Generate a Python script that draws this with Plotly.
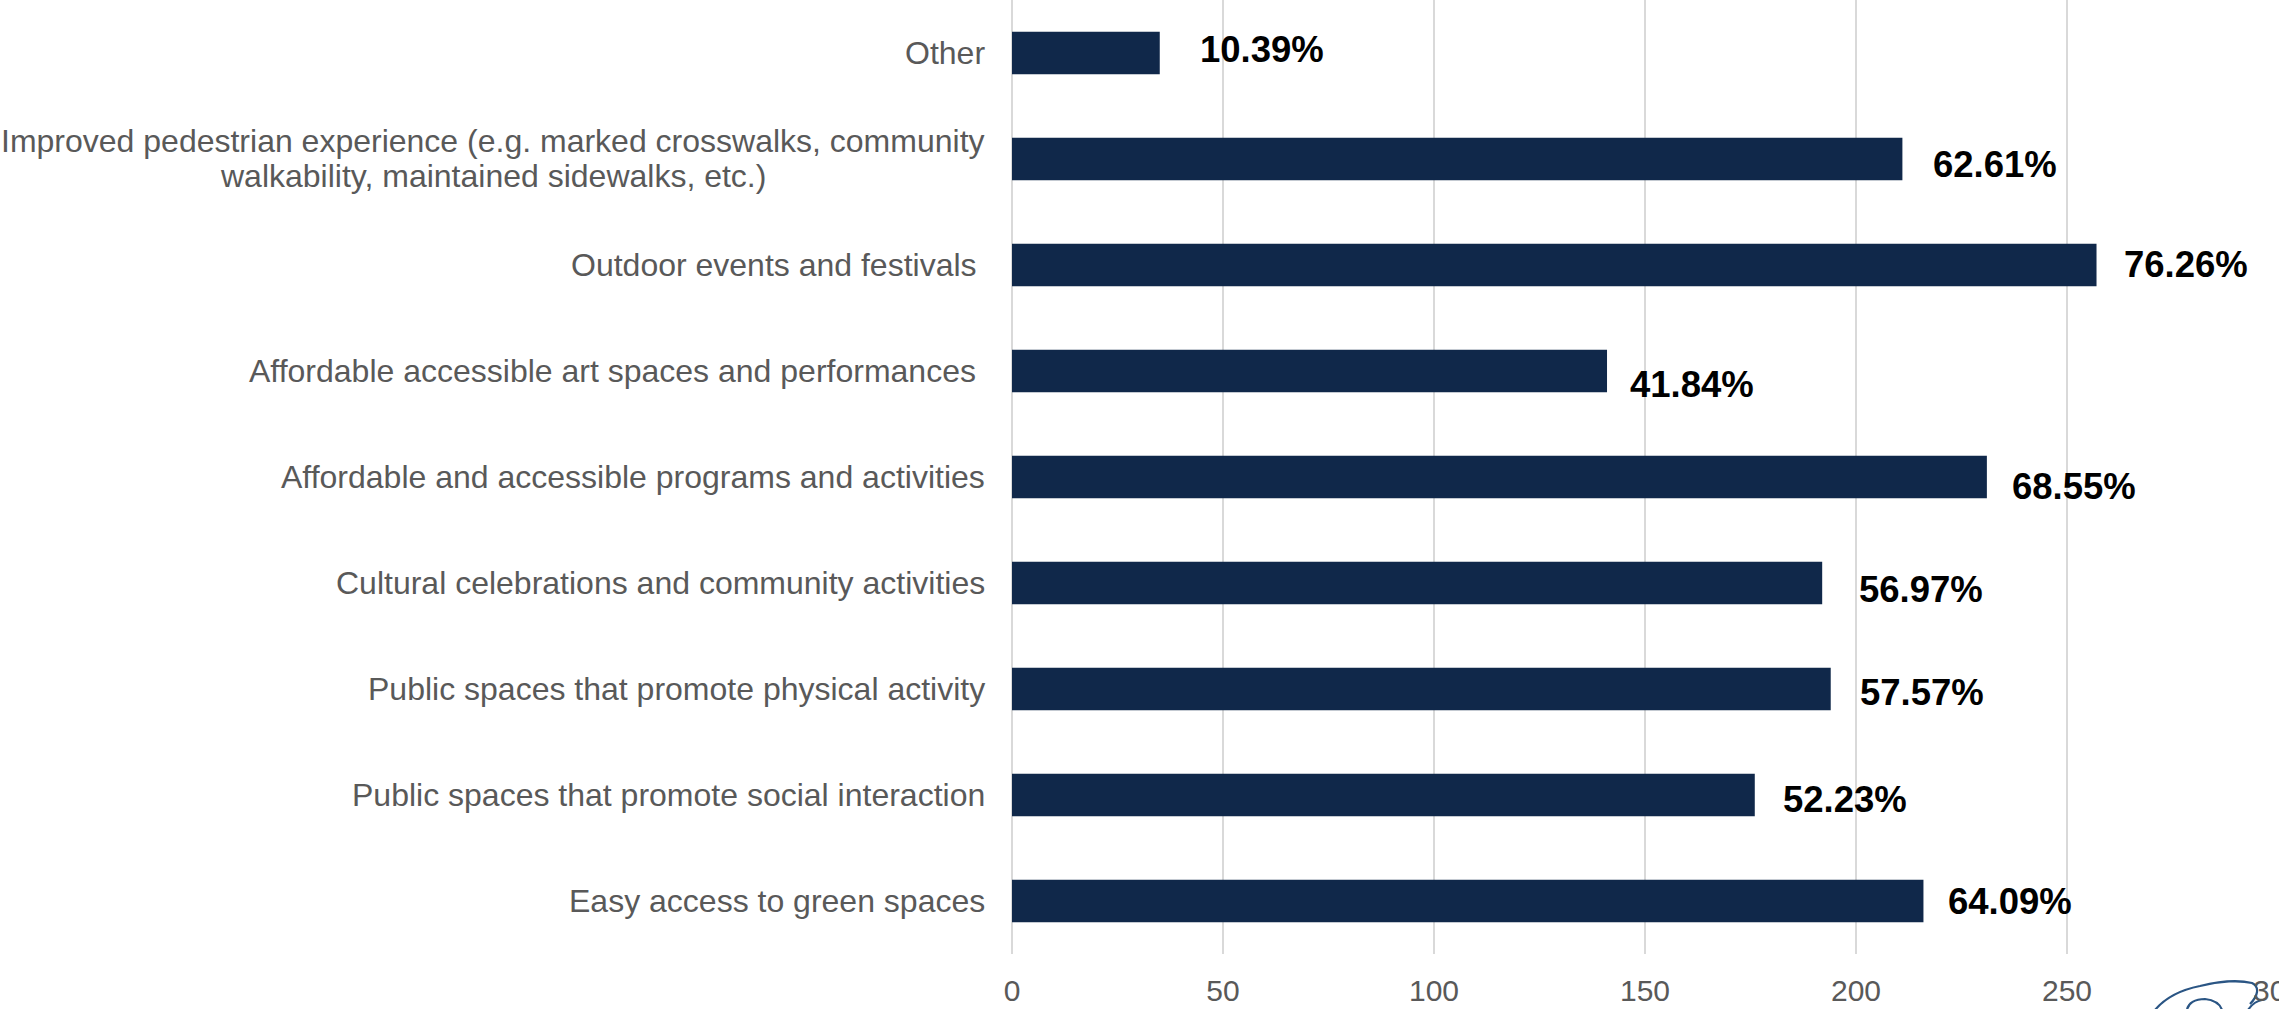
import plotly.graph_objects as go

# Survey question: which amenities matter most (respondents could pick several)
categories = [
    "Other",
    "Improved pedestrian experience (e.g. marked crosswalks, community<br>walkability, maintained sidewalks, etc.)",
    "Outdoor events and festivals\u00a0",
    "Affordable accessible art spaces and performances\u00a0",
    "Affordable and accessible programs and activities",
    "Cultural celebrations and community activities",
    "Public spaces that promote physical activity",
    "Public spaces that promote social interaction",
    "Easy access to green spaces",
]
percent_selected = [10.39, 62.61, 76.26, 41.84, 68.55, 56.97, 57.57, 52.23, 64.09]
total_respondents = 337
x_ticks = [0, 50, 100, 150, 200, 250, 300]

# bar length is the number of respondents behind each percentage
responses = [p / 100 * total_respondents for p in percent_selected]

# hand-placed data label nudges (pixels): gap after bar end, downward shift
label_gap = [38, 29, 25, 21, 23, 35, 27, 26, 23]
label_drop = [-4, 5, -1, 13, 9, 6.5, 3.5, 4, 0]

BAR_COLOR = "#10284A"
GRID = "#D9D9D9"
TEXT_GRAY = "#595959"
FONT = "Arial, Liberation Sans, sans-serif"

fig = go.Figure(
    go.Bar(
        x=responses,
        y=categories,
        orientation="h",
        width=0.4,
        marker=dict(color=BAR_COLOR, line=dict(width=0)),
        hoverinfo="skip",
    )
)


def category_label(cat, text, xshift=-25, yshift=0):
    return dict(
        x=0, y=cat, xref="paper", yref="y",
        text=text, showarrow=False, xanchor="right", yanchor="middle",
        xshift=xshift, yshift=yshift,
        font=dict(family=FONT, size=32, color=TEXT_GRAY),
    )


annotations = []
for cat, val, pct, gap, drop in zip(categories, responses, percent_selected, label_gap, label_drop):
    annotations.append(dict(
        x=val, y=cat, xref="x", yref="y",
        text=f"<b>{pct:.2f}%</b>",
        showarrow=False, xanchor="left", yanchor="middle",
        xshift=gap, yshift=-drop,
        font=dict(family=FONT, size=36.5, color="#000000"),
    ))
    if "<br>" in cat:
        # two-line label: tighter leading, second line centred under the first
        first, second = cat.split("<br>")
        annotations.append(category_label(cat, first, yshift=18))
        annotations.append(category_label(cat, second, xshift=-244, yshift=-17))
    else:
        annotations.append(category_label(cat, cat))

# small outlined emblem in the lower-right corner
W, H = 2279, 1009
L, R, T, B = 1012, 1, 0, 55
pw, ph = W - L - R, H - T - B


def px(x, y):
    return f"{(x - L) / pw:.5f},{(H - B - y) / ph:.5f}"


emblem_outer = (f"M{px(2155, 1010)} C{px(2165, 998)} {px(2180, 990)} {px(2200, 986)} "
                f"C{px(2220, 981)} {px(2240, 980)} {px(2252, 983)} "
                f"C{px(2260, 987)} {px(2258, 996)} {px(2250, 1004)}")
emblem_inner = (f"M{px(2187, 1010)} C{px(2188, 1003)} {px(2195, 999)} {px(2205, 999)} "
                f"C{px(2214, 1000)} {px(2220, 1004)} {px(2222, 1010)}")
emblem_tail = f"M{px(2248, 1010)} C{px(2252, 1004)} {px(2256, 1001)} {px(2262, 1000)}"

shapes = [
    dict(type="path", path=p, xref="paper", yref="paper",
         line=dict(color="#2A5584", width=2.2), layer="below")
    for p in (emblem_outer, emblem_inner, emblem_tail)
]

fig.update_layout(
    width=W, height=H,
    margin=dict(l=L, r=R, t=T, b=B, pad=0, autoexpand=False),
    paper_bgcolor="white",
    plot_bgcolor="white",
    showlegend=False,
    bargap=0.6,
    annotations=annotations,
    shapes=shapes,
    xaxis=dict(
        range=[0, 300],
        tickvals=x_ticks,
        ticktext=[str(t) for t in x_ticks],
        showgrid=True, gridcolor=GRID, gridwidth=2,
        zeroline=True, zerolinecolor=GRID, zerolinewidth=2,
        showline=False,
        ticks="", ticklabelstandoff=16,
        ticklabeloverflow="allow",
        automargin=False,
        tickfont=dict(family=FONT, size=30, color=TEXT_GRAY),
        fixedrange=True,
    ),
    yaxis=dict(
        categoryorder="array",
        categoryarray=categories,
        autorange="reversed",
        showticklabels=False,
        showgrid=False, zeroline=False, showline=False,
        ticks="",
        automargin=False,
        fixedrange=True,
    ),
)

fig.write_html("out.html", config={"displayModeBar": False})
